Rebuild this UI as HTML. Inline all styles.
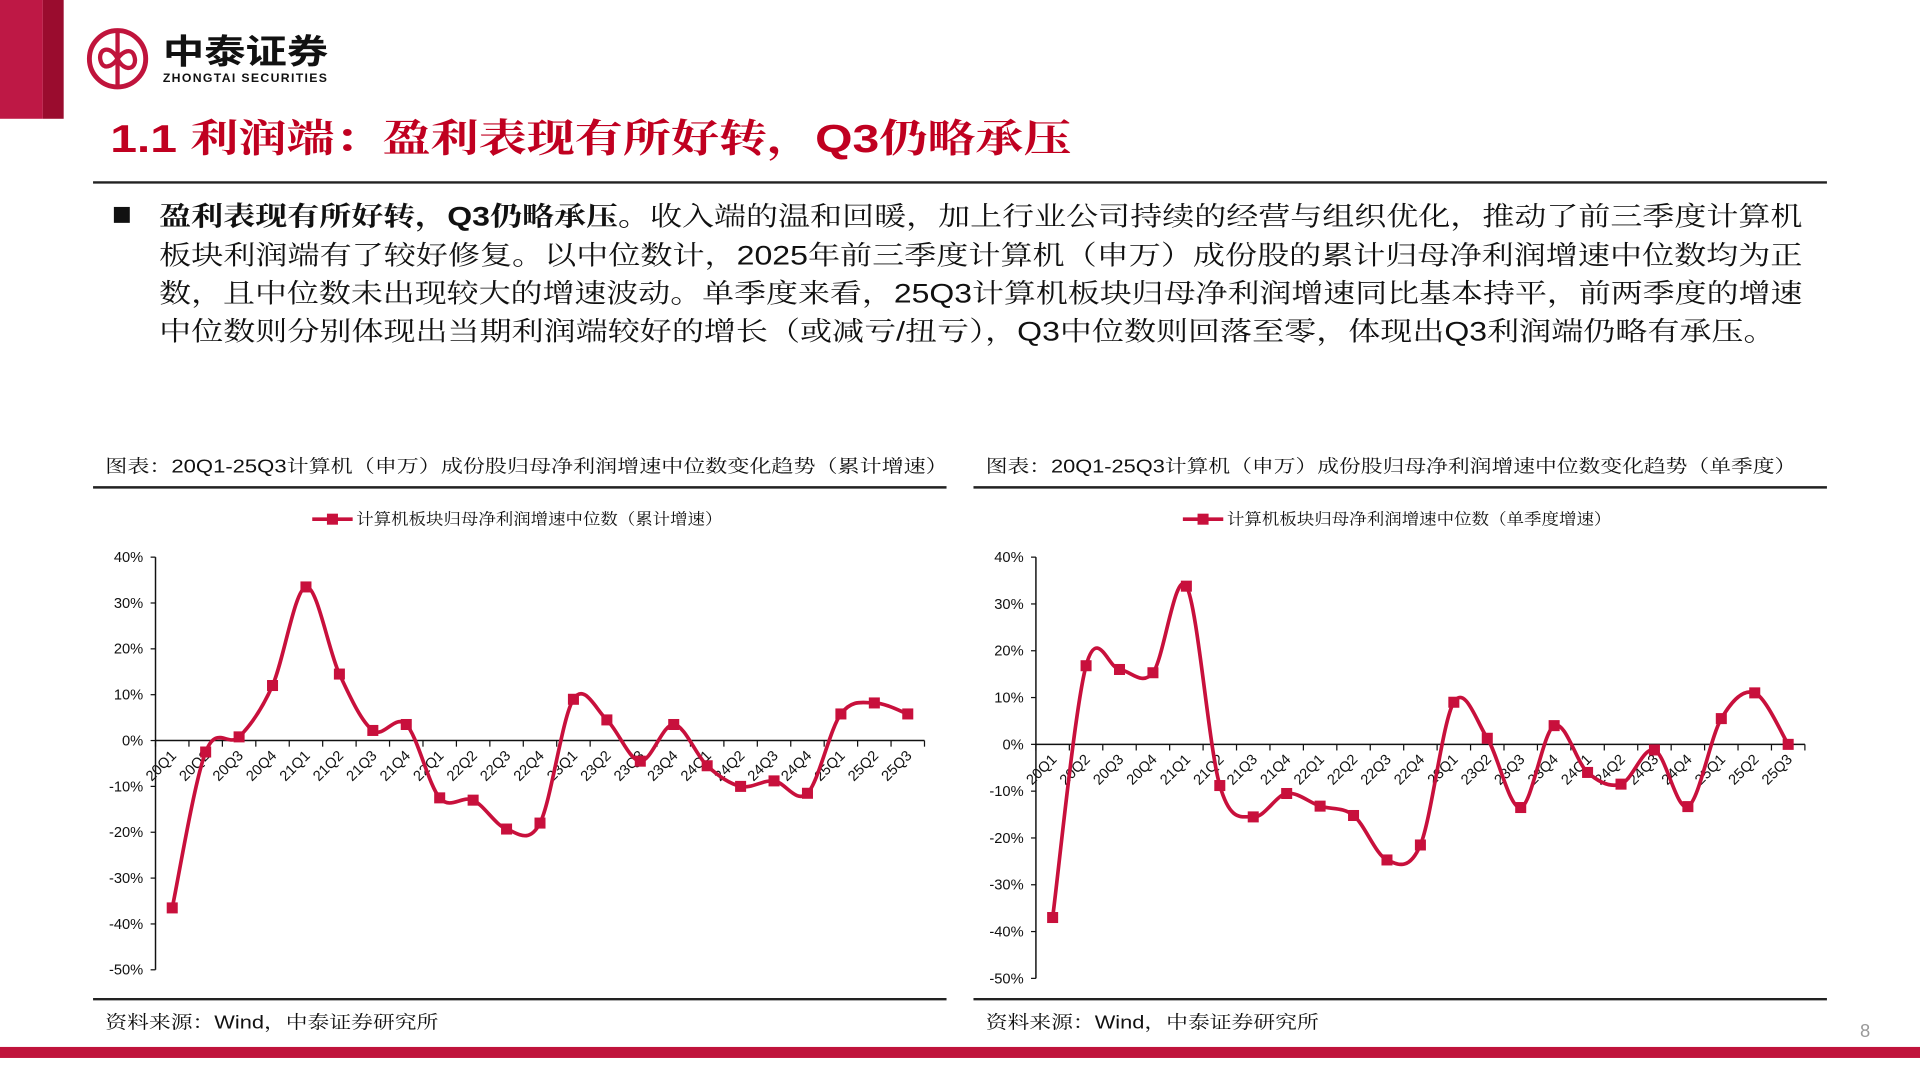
<!DOCTYPE html>
<html><head><meta charset="utf-8"><style>
html,body{margin:0;padding:0;background:#fff;width:1920px;height:1080px;overflow:hidden}
svg{display:block}
.cn{font-family:"Liberation Sans","Noto Serif CJK SC",serif}
.sans{font-family:"Liberation Sans","Noto Sans CJK SC",sans-serif}
</style></head><body>
<svg id="page" width="1920" height="1080" viewBox="0 0 1568 882" preserveAspectRatio="none" xmlns="http://www.w3.org/2000/svg">
<rect x="0" y="0" width="35" height="97" fill="#be1845"/>
<rect x="35" y="0" width="17" height="97" fill="#9a0c2e"/>
<g>
<circle cx="96" cy="48" r="23" fill="none" stroke="#c0143c" stroke-width="4"/>
<path d="M96 27 V69 M96 48 C90 36 80 40 82 49 C84 58 92 54 96 48 C100 42 108 38 110 47 C112 56 102 60 96 48" fill="none" stroke="#c0143c" stroke-width="3.5"/>
<text x="133" y="52" font-size="28" font-weight="bold" class="sans" fill="#111" textLength="135" lengthAdjust="spacingAndGlyphs">中泰证券</text>
<text x="133" y="67" font-size="10" font-weight="bold" class="sans" fill="#111" textLength="134">ZHONGTAI SECURITIES</text>
</g>
<text x="90" y="124" font-size="32" font-weight="bold" fill="#c00020" class="cn" textLength="785" lengthAdjust="spacingAndGlyphs">1.1 利润端：盈利表现有所好转，Q3仍略承压</text>
<line x1="76" y1="149" x2="1492" y2="149" stroke="#222" stroke-width="2"/>
<rect x="93" y="169" width="13" height="13" fill="#111"/>
<g class="cn" font-size="22" fill="#111">
<text x="130" y="184" textLength="1342" lengthAdjust="spacingAndGlyphs"><tspan font-weight="bold">盈利表现有所好转，Q3仍略承压。</tspan>收入端的温和回暖，加上行业公司持续的经营与组织优化，推动了前三季度计算机</text>
<text x="130" y="216" textLength="1342" lengthAdjust="spacingAndGlyphs">板块利润端有了较好修复。以中位数计，2025年前三季度计算机（申万）成份股的累计归母净利润增速中位数均为正</text>
<text x="130" y="247" textLength="1342" lengthAdjust="spacingAndGlyphs">数，且中位数未出现较大的增速波动。单季度来看，25Q3计算机板块归母净利润增速同比基本持平，前两季度的增速</text>
<text x="130" y="278" textLength="1320" lengthAdjust="spacingAndGlyphs">中位数则分别体现出当期利润端较好的增长（或减亏/扭亏），Q3中位数则回落至零，体现出Q3利润端仍略有承压。</text>
</g>
<text x="86" y="386" font-size="15" class="cn" fill="#111" textLength="688" lengthAdjust="spacingAndGlyphs">图表：20Q1-25Q3计算机（申万）成份股归母净利润增速中位数变化趋势（累计增速）</text>
<text x="805" y="386" font-size="15" class="cn" fill="#111" textLength="662" lengthAdjust="spacingAndGlyphs">图表：20Q1-25Q3计算机（申万）成份股归母净利润增速中位数变化趋势（单季度）</text>
<line x1="76" y1="398" x2="773" y2="398" stroke="#222" stroke-width="2"/>
<line x1="795" y1="398" x2="1492" y2="398" stroke="#222" stroke-width="2"/>
<line x1="76" y1="816" x2="773" y2="816" stroke="#222" stroke-width="2"/>
<line x1="795" y1="816" x2="1492" y2="816" stroke="#222" stroke-width="2"/>
<text x="86" y="840" font-size="15" class="cn" fill="#111" textLength="272" lengthAdjust="spacingAndGlyphs">资料来源：Wind，中泰证券研究所</text>
<text x="805" y="840" font-size="15" class="cn" fill="#111" textLength="272" lengthAdjust="spacingAndGlyphs">资料来源：Wind，中泰证券研究所</text>
<rect x="0" y="855" width="1568" height="9" fill="#c0143c"/>
<text x="1519" y="847" font-size="15" fill="#999" class="sans">8</text>
<g id="c1"></g>
<g id="c2"></g>
</svg>
<script>
const categories = ["20Q1","20Q2","20Q3","20Q4","21Q1","21Q2","21Q3","21Q4","22Q1","22Q2","22Q3","22Q4","23Q1","23Q2","23Q3","23Q4","24Q1","24Q2","24Q3","24Q4","25Q1","25Q2","25Q3"];
const cumulativeValues = [-36.5,-2.5,0.8,12,33.5,14.5,2.2,3.5,-12.5,-13,-19.3,-18,9,4.5,-4.5,3.5,-5.5,-10,-8.8,-11.5,5.8,8.2,5.8];
const quarterlyValues = [-37,16.8,16,15.3,33.8,-8.8,-15.5,-10.5,-13.2,-15.2,-24.7,-21.5,9,1.3,-13.5,4,-6,-8.5,-1.2,-13.3,5.5,11,0];
const yTicks = [40,30,20,10,0,-10,-20,-30,-40,-50];
const legend1 = "计算机板块归母净利润增速中位数（累计增速）";
const legend2 = "计算机板块归母净利润增速中位数（单季度增速）";
const NS="http://www.w3.org/2000/svg";
function mk(tag,attrs,parent){const e=document.createElementNS(NS,tag);for(const k in attrs)e.setAttribute(k,attrs[k]);parent.appendChild(e);return e;}
function draw(g,vals,cfg,legendText){
  const x0=cfg.x0,x1=cfg.x1,yTop=cfg.yTop,yBot=cfg.yBot;
  const band=(x1-x0)/categories.length;
  const xs=i=>x0+band*(i+0.5);
  const ys=v=>yTop+(40-v)/90*(yBot-yTop);
  yTicks.forEach(t=>{
    const tl=mk('text',{x:x0-10,y:ys(t)+4,'font-size':12,'text-anchor':'end',fill:'#111','font-family':'Liberation Sans,sans-serif'},g);
    tl.textContent=t+'%';
    
    
    mk('line',{x1:x0-4,x2:x0,y1:ys(t),y2:ys(t),stroke:'#111'},g);
  });
  mk('line',{x1:x0,x2:x0,y1:yTop,y2:yBot,stroke:'#111','stroke-width':1.2},g);
  mk('line',{x1:x0,x2:x1,y1:ys(0),y2:ys(0),stroke:'#111','stroke-width':1.2},g);
  for(let i=0;i<=categories.length;i++){mk('line',{x1:x0+band*i,x2:x0+band*i,y1:ys(0),y2:ys(0)+5,stroke:'#111'},g);}
  categories.forEach((c,i)=>{
    const cx=xs(i)+4,cy=ys(0)+13;
    const t=mk('text',{x:cx,y:cy,'font-size':12,'text-anchor':'end',fill:'#111','font-family':'Liberation Sans,sans-serif',transform:`rotate(-45 ${cx} ${cy})`},g);
    t.textContent=c;
    
    
  });
  const P=vals.map((v,i)=>[xs(i),ys(v)]);
  let d=`M${P[0][0]},${P[0][1]}`;
  for(let i=0;i<P.length-1;i++){
    const p0=P[Math.max(i-1,0)],p1=P[i],p2=P[i+1],p3=P[Math.min(i+2,P.length-1)];
    const c1=[p1[0]+(p2[0]-p0[0])/6,p1[1]+(p2[1]-p0[1])/6];
    const c2=[p2[0]-(p3[0]-p1[0])/6,p2[1]-(p3[1]-p1[1])/6];
    d+=` C${c1[0]},${c1[1]} ${c2[0]},${c2[1]} ${p2[0]},${p2[1]}`;
  }
  const line=mk('path',{d:d,fill:'none',stroke:'#c8103c','stroke-width':3},g);
  
  
  P.forEach(p=>{
    const m=mk('rect',{x:p[0]-4.5,y:p[1]-4.5,width:9,height:9,fill:'#c8103c'},g);
    
    
  });
  const lg=mk('g',{},g);
  
  
  mk('line',{x1:cfg.lx,x2:cfg.lx+33,y1:424,y2:424,stroke:'#c8103c','stroke-width':3},lg);
  mk('rect',{x:cfg.lx+12,y:419.5,width:9,height:9,fill:'#c8103c'},lg);
  const lt=mk('text',{x:cfg.lx+36,y:428.5,'font-size':13,fill:'#111','font-family':'Liberation Sans,Noto Serif CJK SC,serif',textLength:cfg.lw,lengthAdjust:'spacingAndGlyphs'},lg);
  lt.textContent=legendText;
}
draw(document.getElementById('c1'),cumulativeValues,{x0:127,x1:755,yTop:455,yBot:792,lx:255,lw:299},legend1);
draw(document.getElementById('c2'),quarterlyValues,{x0:846,x1:1474,yTop:455,yBot:799,lx:966,lw:314},legend2);
</script>
</body></html>
